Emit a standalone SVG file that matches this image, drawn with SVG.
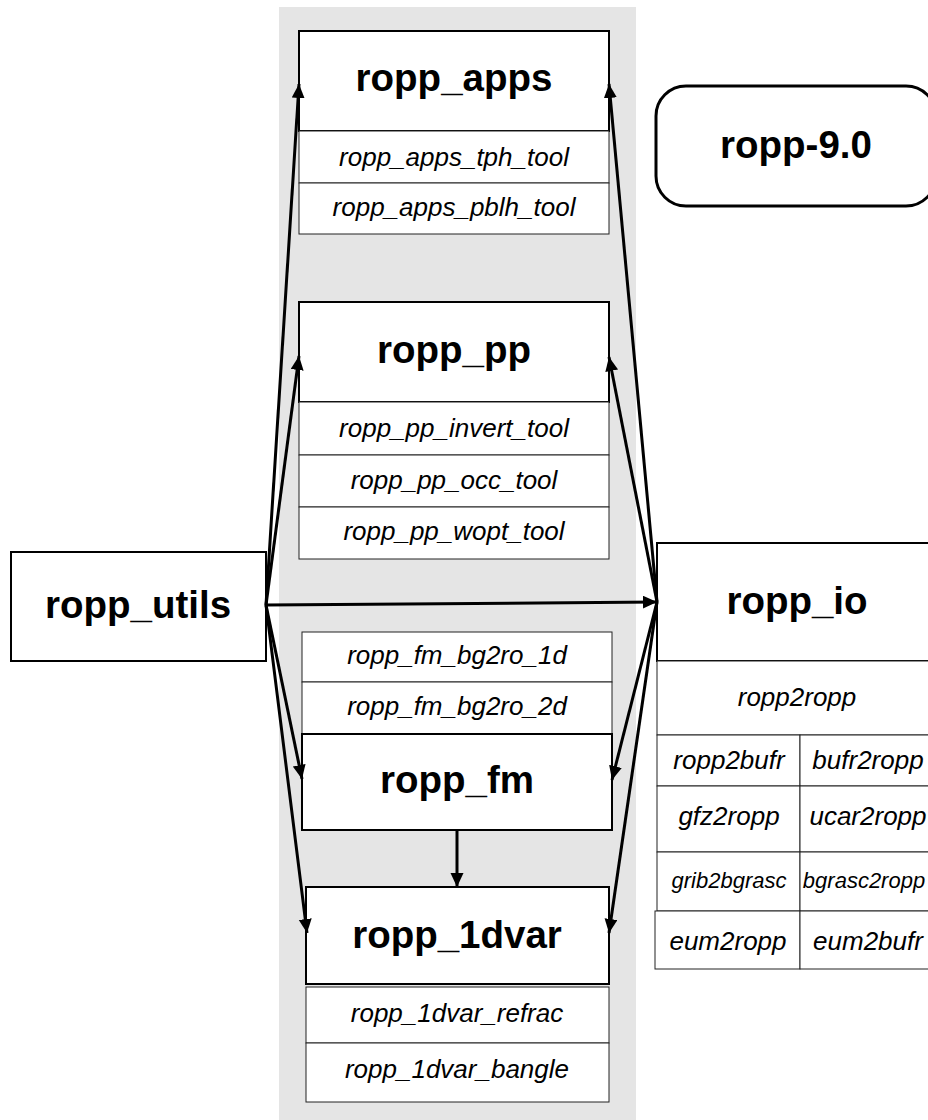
<svg xmlns="http://www.w3.org/2000/svg" width="928" height="1120" viewBox="0 0 928 1120">
<style>
.main{fill:#fff;stroke:#000;stroke-width:2}
.sub{fill:#fff;stroke:#222;stroke-width:1}
.b{font-family:"Liberation Sans",Arial,sans-serif;font-weight:bold;font-size:38.5px;fill:#000;text-anchor:middle}
.i{font-family:"Liberation Sans",Arial,sans-serif;font-style:italic;font-size:26px;fill:#000;text-anchor:middle}
.s{font-size:22px}
.c{stroke:#000;stroke-width:3;fill:none;marker-end:url(#ah)}
</style>
<defs>
<marker id="ah" markerUnits="userSpaceOnUse" markerWidth="15" markerHeight="14" refX="14" refY="6.5" orient="auto">
<path d="M0,0 L14,6.5 L0,13 z" fill="#000"/>
</marker>
</defs>
<rect x="279" y="7" width="357" height="1113" fill="#e5e5e5"/>

<g id="ropp_apps">
<rect class="main" x="299" y="31" width="310" height="100"/>
<text class="b" x="454" y="91">ropp_apps</text>
<rect class="sub" x="299" y="131" width="310" height="52"/>
<text class="i" x="454" y="166">ropp_apps_tph_tool</text>
<rect class="sub" x="299" y="183" width="310" height="51"/>
<text class="i" x="454" y="216">ropp_apps_pblh_tool</text>
</g>

<g id="ropp-9.0">
<rect x="656" y="86" width="280" height="120" rx="30" ry="30" fill="#fff" stroke="#000" stroke-width="3"/>
<text class="b" x="796" y="158">ropp-9.0</text>
</g>

<g id="ropp_pp">
<rect class="main" x="299" y="302" width="310" height="100"/>
<text class="b" x="454" y="363">ropp_pp</text>
<rect class="sub" x="299" y="402" width="310" height="53"/>
<text class="i" x="454" y="437">ropp_pp_invert_tool</text>
<rect class="sub" x="299" y="455" width="310" height="52"/>
<text class="i" x="454" y="489">ropp_pp_occ_tool</text>
<rect class="sub" x="299" y="507" width="310" height="52"/>
<text class="i" x="454" y="540">ropp_pp_wopt_tool</text>
</g>

<g id="ropp_utils">
<rect class="main" x="11" y="552" width="255" height="109"/>
<text class="b" x="138" y="618">ropp_utils</text>
</g>

<g id="ropp_io">
<rect class="main" x="657" y="543" width="281" height="118"/>
<text class="b" x="797" y="614">ropp_io</text>
<rect class="sub" x="657" y="661" width="281" height="74"/>
<text class="i" x="797" y="706">ropp2ropp</text>
<rect class="sub" x="657" y="735" width="143" height="51"/>
<text class="i" x="729" y="769">ropp2bufr</text>
<rect class="sub" x="800" y="735" width="138" height="51"/>
<text class="i" x="868" y="769">bufr2ropp</text>
<rect class="sub" x="657" y="786" width="143" height="66"/>
<text class="i" x="729" y="825">gfz2ropp</text>
<rect class="sub" x="800" y="786" width="138" height="66"/>
<text class="i" x="868" y="825">ucar2ropp</text>
<rect class="sub" x="657" y="852" width="143" height="59"/>
<text class="i s" x="729" y="888">grib2bgrasc</text>
<rect class="sub" x="800" y="852" width="138" height="59"/>
<text class="i s" x="864" y="888">bgrasc2ropp</text>
<rect class="sub" x="655" y="911" width="145" height="58"/>
<text class="i" x="728" y="950">eum2ropp</text>
<rect class="sub" x="800" y="911" width="138" height="58"/>
<text class="i" x="868" y="950">eum2bufr</text>
</g>

<g id="ropp_fm">
<rect class="sub" x="302" y="632" width="310" height="50"/>
<text class="i" x="457" y="664">ropp_fm_bg2ro_1d</text>
<rect class="sub" x="302" y="682" width="310" height="52"/>
<text class="i" x="457" y="715">ropp_fm_bg2ro_2d</text>
<rect class="main" x="302" y="734" width="310" height="96"/>
<text class="b" x="457" y="793">ropp_fm</text>
</g>

<g id="ropp_1dvar">
<rect class="main" x="306" y="887" width="303" height="97"/>
<text class="b" x="457" y="948">ropp_1dvar</text>
<rect class="sub" x="306" y="987" width="303" height="56"/>
<text class="i" x="457" y="1022">ropp_1dvar_refrac</text>
<rect class="sub" x="306" y="1043" width="303" height="59"/>
<text class="i" x="457" y="1078">ropp_1dvar_bangle</text>
</g>

<g id="connectors">
<line class="c" x1="266" y1="605" x2="299" y2="84"/>
<line class="c" x1="266" y1="605" x2="299" y2="356"/>
<line class="c" x1="266" y1="605" x2="657" y2="602"/>
<line class="c" x1="266" y1="605" x2="302" y2="779"/>
<line class="c" x1="266" y1="605" x2="307" y2="933"/>
<line class="c" x1="657" y1="602" x2="609" y2="84"/>
<line class="c" x1="657" y1="602" x2="609" y2="357"/>
<line class="c" x1="657" y1="602" x2="612" y2="780"/>
<line class="c" x1="657" y1="602" x2="609" y2="933"/>
<line class="c" x1="457" y1="830" x2="457" y2="887"/>
</g>
</svg>
